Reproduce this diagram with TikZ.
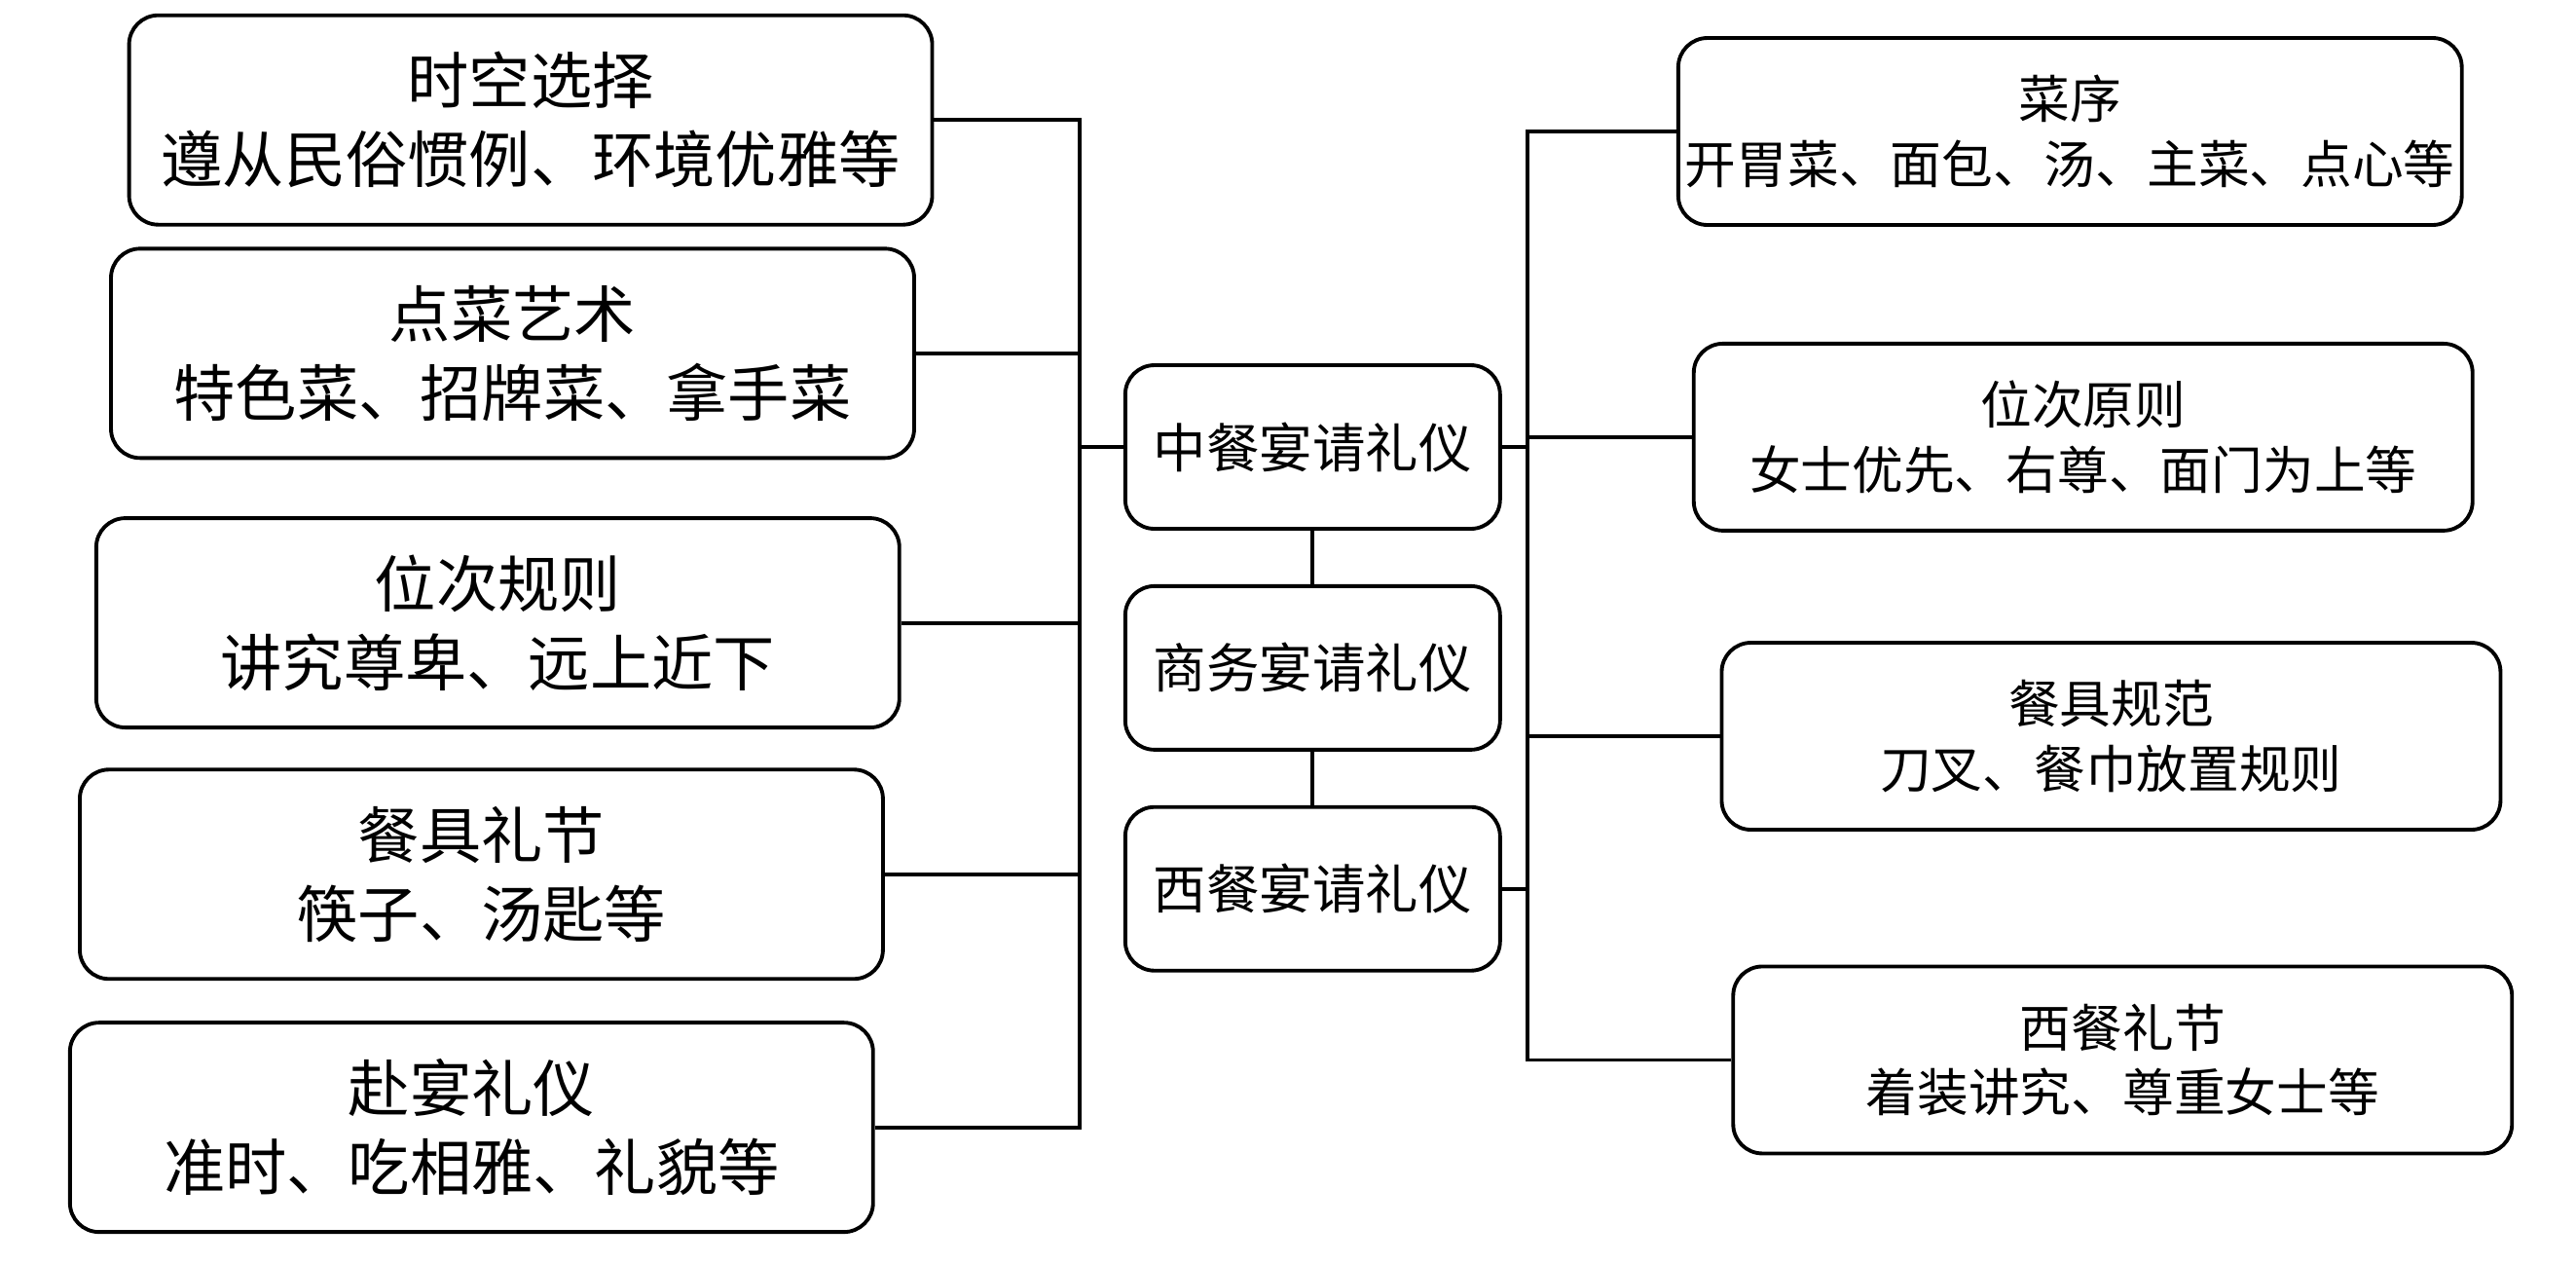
\documentclass[tikz,border=0pt]{standalone}
\usepackage{fontspec}
\setmainfont{Noto Sans CJK SC}
\usepackage{tikz}
\usetikzlibrary{positioning}

\begin{document}
\begin{tikzpicture}[
  x=0.016875cm, y=-0.016875cm, line width=1.1pt,
  node distance = 5.5mm,
  box/.style  = {rectangle, rounded corners=3mm, draw, align=center, inner sep=2pt},
  side/.style = {box, minimum width=8.25cm, minimum height=2.15cm, font=\fontsize{18}{23}\selectfont},
  hub/.style  = {box, minimum width=3.85cm, minimum height=1.68cm, font=\fontsize{15.5}{19}\selectfont},
  item/.style = {box, minimum width=8.0cm, minimum height=1.92cm, font=\fontsize{15}{19}\selectfont}
]
\fill[white] (0,0) rectangle (1568,769);
\useasboundingbox (0,0) rectangle (1568,769);
% left column
\node[side] (time)   at (323,73)  {时空选择\\遵从民俗惯例、环境优雅等};
\node[side] (order)  at (312,215) {点菜艺术\\特色菜、招牌菜、拿手菜};
\node[side] (seat)   at (303,379) {位次规则\\讲究尊卑、远上近下};
\node[side] (ware)   at (293,532) {餐具礼节\\筷子、汤匙等};
\node[side] (attend) at (287,686) {赴宴礼仪\\准时、吃相雅、礼貌等};
% middle column
\node[hub] (cn) at (799,272) {中餐宴请礼仪};
\node[hub, below=of cn]  (biz)  {商务宴请礼仪};
\node[hub, below=of biz] (west) {西餐宴请礼仪};
% right column
\node[item] (course)  at (1260,80)  {菜序\\开胃菜、面包、汤、主菜、点心等};
\node[item] (rank)    at (1268,266) {位次原则\\女士优先、右尊、面门为上等};
\node[item] (cutlery) at (1285,448) {餐具规范\\刀叉、餐巾放置规则};
\node[item] (manner)  at (1292,645) {西餐礼节\\着装讲究、尊重女士等};
\coordinate (lbus) at (657,0);
\coordinate (rbus) at (930,0);
% connectors
\draw (time.east) -- (time.east -| lbus) -- (attend.east -| lbus) -- (attend.east);
\foreach \n in {order,seat,ware}
  \draw (\n.east) -- (\n.east -| lbus);
\draw (cn.west) -- (cn.west -| lbus);
\draw (cn) -- (biz);
\draw (biz) -- (west);
\draw (course.west) -- (course.west -| rbus) -- (manner.west -| rbus) -- (manner.west);
\foreach \n in {rank,cutlery}
  \draw (\n.west) -- (\n.west -| rbus);
\draw (cn.east) -- (cn.east -| rbus);
\draw (west.east) -- (west.east -| rbus);
\end{tikzpicture}
\end{document}
